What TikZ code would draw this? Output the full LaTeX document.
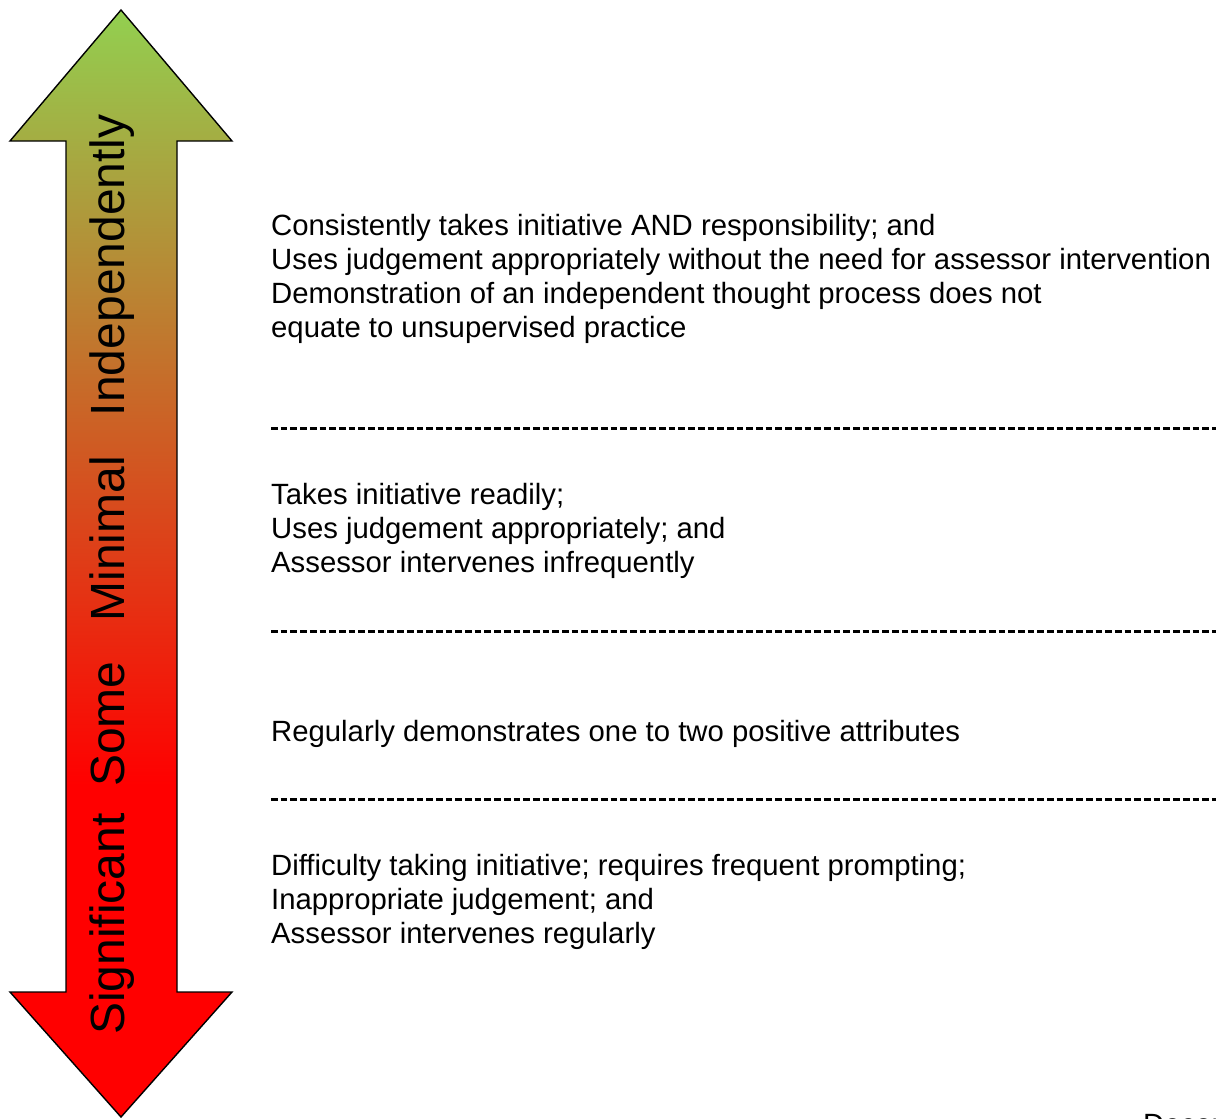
\documentclass[tikz,border=0pt]{standalone}
\usepackage{fontspec}
\setmainfont{Liberation Sans}
\definecolor{okgreen}{RGB}{146,208,80}
\pgfdeclareverticalshading{scaleshade}{100bp}{color(0bp)=(red); color(40bp)=(red); color(75bp)=(okgreen); color(100bp)=(okgreen)}
\begin{document}
\begin{tikzpicture}[x=1pt,y=-1pt]
  \tikzstyle{every node}=[inner sep=0pt]
  \tikzstyle{level}=[anchor=base west,align=left,font=\fontsize{29.3}{34}\selectfont]
  \tikzstyle{sep}=[line width=3pt,dash pattern=on 6.7pt off 3pt]
  \useasboundingbox (0,0) rectangle (1216,1119);
  \begin{scope}
  \clip (0,0) rectangle (1216,1119);
  % double headed arrow
  \draw[line width=1.4pt,line join=miter,shading=scaleshade]
    (121,10) -- (232,141) -- (177,141) -- (177,992) -- (232,992) -- (121,1117)
    -- (10,992) -- (66,992) -- (66,141) -- (10,141) -- cycle;
  \node[rotate=90,anchor=base west,font=\fontsize{48}{48}\selectfont] (scale) at (124,1035)
    {Significant\ \ Some\ \ \ Minimal\ \ \ Independently};
  % levels (base = last line)
  \node[level] (indep) at (271,337) {Consistently takes initiative AND responsibility; and\\
    Uses judgement appropriately without the need for assessor intervention\\
    Demonstration of an independent thought process does not\\
    equate to unsupervised practice};
  \coordinate (s1) at (271,428);
  \draw[sep] (s1) -- (s1 -| 1216,0);
  \node[level] (minimal) at (271,572) {Takes initiative readily;\\
    Uses judgement appropriately; and\\
    Assessor intervenes infrequently};
  \coordinate (s2) at (271,631);
  \draw[sep] (s2) -- (s2 -| 1216,0);
  \node[level] (some) at (271,741) {Regularly demonstrates one to two positive attributes};
  \coordinate (s3) at (271,799);
  \draw[sep] (s3) -- (s3 -| 1216,0);
  \node[level] (signif) at (271,943) {Difficulty taking initiative; requires frequent prompting;\\
    Inappropriate judgement; and\\
    Assessor intervenes regularly};
  \node[level] (date) at (1143,1134) {December};
  \end{scope}
\end{tikzpicture}
\end{document}
